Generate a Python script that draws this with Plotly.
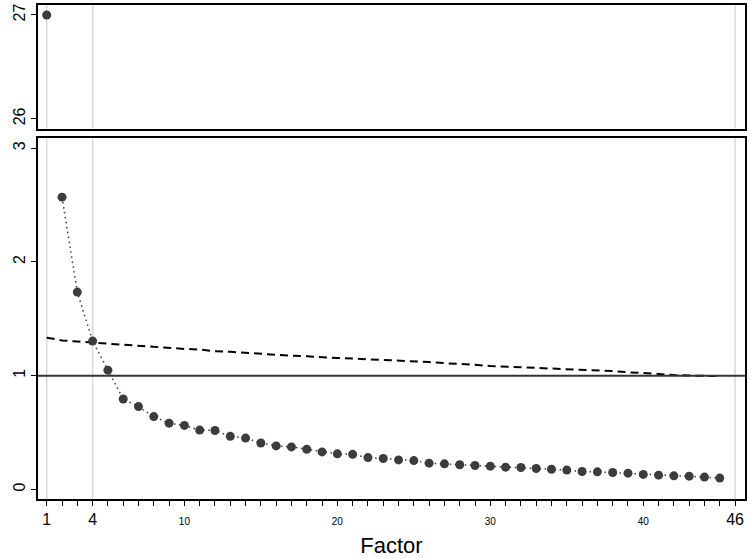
import plotly.graph_objects as go

# ---- data ----
factors = list(range(1, 46))
eigenvalues = [27.0, 2.57, 1.735, 1.304, 1.048, 0.795, 0.728, 0.64, 0.582, 0.562,
               0.521, 0.518, 0.466, 0.451, 0.408, 0.382, 0.373, 0.352, 0.329, 0.312,
               0.308, 0.279, 0.271, 0.259, 0.253, 0.23, 0.224, 0.216, 0.21, 0.204,
               0.195, 0.192, 0.183, 0.177, 0.169, 0.157, 0.154, 0.148, 0.142, 0.131,
               0.125, 0.119, 0.116, 0.108, 0.099]
parallel = [1.334, 1.31, 1.30, 1.29, 1.28, 1.27, 1.26, 1.255, 1.245, 1.235,
            1.23, 1.215, 1.21, 1.20, 1.19, 1.18, 1.175, 1.17, 1.16, 1.155,
            1.15, 1.145, 1.14, 1.135, 1.13, 1.12, 1.11, 1.105, 1.095, 1.085,
            1.08, 1.075, 1.07, 1.065, 1.055, 1.05, 1.045, 1.04, 1.03, 1.025,
            1.015, 1.005, 1.0, 0.998, 0.997]
ref_x = [1, 4, 46]
ref_y = 1
x_ticks = list(range(1, 47))
big_labels = {1: "1", 4: "4", 46: "46"}
small_labels = {10: "10", 20: "20", 30: "30", 40: "40"}
top_yticks = [26, 27]
bottom_yticks = [0, 1, 2, 3]

FONT = "Liberation Sans, Arial, Helvetica, sans-serif"
MARK = "#3c3c3c"

ticktext = []
for v in x_ticks:
    if v in big_labels:
        ticktext.append(big_labels[v])
    elif v in small_labels:
        ticktext.append('<span style="font-size:10px">' + small_labels[v] + "</span>")
    else:
        ticktext.append("")

fig = go.Figure()

# top panel: first eigenvalue
fig.add_trace(go.Scatter(x=factors[:1], y=eigenvalues[:1], xaxis="x2", yaxis="y2",
                         mode="markers", marker=dict(size=9, color=MARK),
                         showlegend=False))

# bottom panel: parallel analysis line
fig.add_trace(go.Scatter(x=factors, y=parallel, xaxis="x", yaxis="y",
                         mode="lines", line=dict(color="black", width=2, dash="8px,5px"),
                         showlegend=False))
# bottom panel: remaining eigenvalues
fig.add_trace(go.Scatter(x=factors[1:], y=eigenvalues[1:], xaxis="x", yaxis="y",
                         mode="lines+markers",
                         line=dict(color=MARK, width=1.5, dash="1.5px,3.5px"),
                         marker=dict(size=9, color=MARK),
                         showlegend=False))

shapes = []
for xv in ref_x:
    for yr in ["y domain", "y2 domain"]:
        shapes.append(dict(type="line", xref="x", yref=yr, x0=xv, x1=xv, y0=0, y1=1,
                           line=dict(color="#d9d9d9", width=1.5), layer="below"))
shapes.append(dict(type="line", xref="x domain", yref="y", x0=0, x1=1, y0=ref_y, y1=ref_y,
                   line=dict(color="#333333", width=2), layer="above"))

axis_common = dict(showline=True, linecolor="black", linewidth=1.5, mirror=True,
                   showgrid=False, zeroline=False)

fig.update_layout(
    width=750, height=558,
    margin=dict(l=38, r=3, t=3, b=57),
    paper_bgcolor="white", plot_bgcolor="white",
    font=dict(family=FONT, color="black"),
    shapes=shapes,
    xaxis=dict(domain=[0, 1], anchor="y", range=[0.43, 46.65],
               tickmode="array", tickvals=x_ticks, ticktext=ticktext,
               ticks="outside", ticklen=5, tickwidth=1, tickcolor="black",
               tickfont=dict(size=16), tickangle=0,
               title=dict(text="Factor", font=dict(size=22), standoff=12),
               **axis_common),
    xaxis2=dict(domain=[0, 1], anchor="y2", matches="x", range=[0.43, 46.65],
                showticklabels=False, ticks="", **axis_common),
    yaxis=dict(domain=[0, 0.730], anchor="x", range=[-0.085, 3.087],
               tickmode="array", tickvals=bottom_yticks, ticks="outside", ticklen=5,
               tickcolor="black", tickangle=-90, tickfont=dict(size=16),
               **axis_common),
    yaxis2=dict(domain=[0.7494, 1], anchor="x2", range=[25.904, 27.096],
                tickmode="array", tickvals=top_yticks, ticks="outside", ticklen=5,
                tickcolor="black", tickangle=-90, tickfont=dict(size=16),
                **axis_common),
)

fig.write_html("out.html", config={"displayModeBar": False},
               post_script="document.body.style.margin='0px';document.body.style.overflow='hidden';")
